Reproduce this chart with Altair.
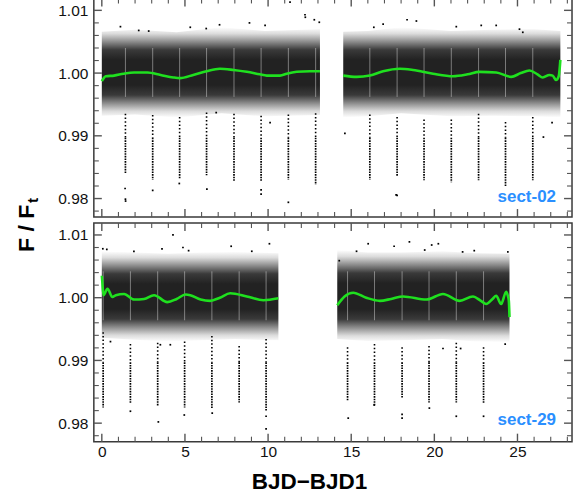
import altair as alt
import pandas as pd

# ---------------- data ----------------
X_DOMAIN = [-0.48, 28.28]
Y_DOMAIN = [0.97705, 1.0119]

x_major = [0, 5, 10, 15, 20, 25]
x_minor = [1, 2, 3, 4, 6, 7, 8, 9, 11, 12, 13, 14, 16, 17, 18, 19, 21, 22, 23, 24, 26, 27, 28]
y_major = [0.98, 0.99, 1.00, 1.01]
y_minor = [0.978, 0.982, 0.984, 0.986, 0.988, 0.992, 0.994, 0.996, 0.998,
           1.002, 1.004, 1.006, 1.008]

# ---- sector 02 (top panel) ----
s02_label = "sect-02"
# extent of the scatter cloud (sparse edges) per data segment
s02_band_t = [0.0, 2.0, 4.5, 7.2, 9.8, 13.12, 14.52, 16.0, 18.0, 21.0, 23.5, 26.0, 27.58]
s02_band_seg = [1, 1, 1, 1, 1, 1, 2, 2, 2, 2, 2, 2, 2]
s02_band_hi = [1.0066, 1.0069, 1.0065, 1.0073, 1.0067, 1.0070, 1.0066, 1.0067, 1.0073, 1.0067, 1.0069, 1.0070, 1.0067]
s02_band_lo = [0.9932, 0.9934, 0.9929, 0.9936, 0.9931, 0.9933, 0.9929, 0.9931, 0.9936, 0.9931, 0.9932, 0.9931, 0.9929]

s02_fit_t = [0.0, 0.24, 0.74, 1.3, 1.94, 2.74, 3.54, 4.3, 4.7, 5.5, 6.3, 7.1, 7.92, 8.72, 9.5, 9.92,
             10.72, 11.12, 11.72, 12.5, 13.12,
             14.52, 15.32, 16.12, 16.92, 17.92, 18.72, 19.92, 21.12, 22.0, 22.72, 23.72, 24.62,
             25.2, 25.72, 26.2, 26.52, 26.92, 27.12, 27.32, 27.48, 27.58]
s02_fit_f = [0.9987, 0.9995, 0.9996, 0.9999, 1.0001, 1.0001, 0.9997, 0.9993, 0.9992, 0.9997, 1.0003,
             1.0007, 1.0005, 1.0002, 0.9998, 0.9996, 0.9996, 0.9999, 1.0002, 1.0003, 1.0003,
             0.9996, 0.9994, 0.9996, 1.0003, 1.0007, 1.0005, 0.9999, 0.9995, 0.9998, 1.0002, 1.0001,
             0.9994, 1.0000, 1.0004, 0.9998, 0.9993, 0.9997, 0.9996, 0.9989, 0.9995, 1.0021]
s02_fit_seg = [1] * 21 + [2] * 21

s02_tr_t = [1.42, 3.06, 4.68, 6.30, 7.95, 9.58, 11.22, 12.86, 16.12, 17.76, 19.38, 21.02, 22.66, 24.28, 25.92]
s02_tr_top = [0.9935, 0.9933, 0.9930, 0.9937, 0.9935, 0.9932, 0.9934, 0.9936, 0.9934, 0.9930, 0.9926,
              0.9926, 0.9935, 0.9922, 0.9930]
s02_tr_bot = [0.9840, 0.9830, 0.9832, 0.9837, 0.9827, 0.9827, 0.9830, 0.9822, 0.9830, 0.9835, 0.9829,
              0.9826, 0.9829, 0.9819, 0.9829]

s02_out_t = [1.12, 2.22, 2.82, 5.32, 6.28, 7.08, 8.88, 9.82, 11.32, 12.22, 12.24, 12.78, 13.08, 16.36,
             16.92, 18.36, 18.92, 21.32, 22.82, 23.72, 25.12, 25.32,
             1.40, 1.42, 1.43, 3.06, 4.66, 6.32, 9.58, 9.58, 11.22, 17.70, 17.76, 14.62, 10.12, 6.88,
             26.56, 27.08]
s02_out_f = [1.0074, 1.0068, 1.0067, 1.0073, 1.0071, 1.0077, 1.0080, 1.0076, 1.0113, 1.0093, 1.0089,
             1.0085, 1.0081, 1.0073, 1.0078, 1.0085, 1.0083, 1.0074, 1.0076, 1.0076, 1.0070, 1.0065,
             0.9816, 0.9799, 0.9796, 0.9813, 0.9824, 0.9815, 0.9814, 0.9807, 0.9794, 0.9806, 0.9805,
             0.9904, 0.9921, 0.9937, 0.9898, 0.9921]

# ---- sector 29 (bottom panel) ----
s29_label = "sect-29"
s29_band_t = [0.0, 2.0, 4.0, 6.0, 8.0, 10.62, 14.16, 16.0, 18.0, 20.5, 22.5, 24.52]
s29_band_seg = [1, 1, 1, 1, 1, 1, 2, 2, 2, 2, 2, 2]
s29_band_hi = [1.0074, 1.0072, 1.0070, 1.0072, 1.0073, 1.0071, 1.0076, 1.0072, 1.0072, 1.0074, 1.0071, 1.0070]
s29_band_lo = [0.9936, 0.9933, 0.9930, 0.9932, 0.9934, 0.9932, 0.9934, 0.9931, 0.9932, 0.9934, 0.9930, 0.9929]

s29_fit_t = [0.0, 0.03, 0.1, 0.34, 0.64, 0.84, 1.34, 1.94, 2.54, 3.14, 3.94, 4.5, 5.04, 5.32, 5.94,
             6.52, 7.1, 7.72, 8.72, 9.72, 10.62,
             14.16, 14.6, 15.12, 15.9, 16.72, 17.4, 18.12, 19.52, 20.52, 21.52, 22.32, 22.8, 23.12,
             23.5, 23.72, 24.02, 24.32, 24.42, 24.48, 24.52]
s29_fit_f = [1.0035, 1.0025, 1.0004, 1.0014, 1.0001, 1.0004, 1.0006, 0.9997, 0.9998, 1.0004, 0.9993,
             0.9998, 1.0005, 1.0004, 0.9997, 0.9995, 1.0000, 1.0007, 1.0002, 0.9996, 0.9999,
             0.9988, 1.0002, 1.0008, 1.0000, 0.9995, 0.9998, 1.0002, 0.9997, 1.0006, 0.9995, 1.0002,
             0.9995, 0.9990, 0.9998, 1.0003, 0.9990, 1.00095, 1.0003, 0.9995, 0.9969]
s29_fit_seg = [1] * 21 + [2] * 20

s29_tr_t = [0.08, 1.72, 3.36, 4.98, 6.62, 8.26, 9.88, 14.78, 16.40, 18.06, 19.68, 21.32, 22.96]
s29_tr_top = [0.9945, 0.9926, 0.9928, 0.9930, 0.9939, 0.9923, 0.9934, 0.9921, 0.9926, 0.9921, 0.9923,
              0.9928, 0.9921]
s29_tr_bot = [0.9825, 0.9831, 0.9828, 0.9825, 0.9823, 0.9833, 0.9820, 0.9836, 0.9828, 0.9841, 0.9833,
              0.9833, 0.9831]

s29_out_t = [0.06, 0.30, 1.93, 3.62, 4.28, 4.88, 5.22, 7.78, 9.02, 10.08, 14.28, 15.32, 16.02, 17.58,
             18.50, 19.42, 19.84, 20.24, 21.70, 22.40, 24.42,
             0.52, 3.52, 4.12, 20.52, 21.58, 24.26,
             1.72, 3.40, 4.96, 6.64, 9.88, 9.88, 14.82, 16.38, 18.06, 18.06, 19.70, 21.32, 22.96]
s29_out_f = [1.0078, 1.0077, 1.0074, 1.0078, 1.0100, 1.0080, 1.0075, 1.0082, 1.0074, 1.0086, 1.0059,
             1.0074, 1.0086, 1.0082, 1.0089, 1.0076, 1.0084, 1.0086, 1.0073, 1.0075, 1.0073,
             0.9930, 0.9925, 0.9925, 0.9919, 0.9919, 0.9926,
             0.9819, 0.9802, 0.9813, 0.9816, 0.9791, 0.9811, 0.9808, 0.9829, 0.9808, 0.9814, 0.9824,
             0.9811, 0.9811]

x_title = ["BJD\u2212BJD1"]
y_title_main = ["F / F"]
y_title_sub = ["t"]

# ---------------- chart ----------------
W, H = 479, 219
LEFT = 93.5          # pixel offset of the plot area from the page's left edge
FONT = "Liberation Sans"
TICK_COLOR = "#555555"
GREEN = "#1FE01F"
BLUE = "#2A8FFF"

# vertical density profile of the scatter cloud
cloud = alt.Gradient(
    gradient="linear", x1=0, x2=0, y1=0, y2=1,
    stops=[
        alt.GradientStop(color="#ffffff", offset=0.0),
        alt.GradientStop(color="#dcdcdc", offset=0.07),
        alt.GradientStop(color="#8c8c8c", offset=0.16),
        alt.GradientStop(color="#3a3a3a", offset=0.25),
        alt.GradientStop(color="#222222", offset=0.36),
        alt.GradientStop(color="#222222", offset=0.64),
        alt.GradientStop(color="#3a3a3a", offset=0.75),
        alt.GradientStop(color="#8c8c8c", offset=0.84),
        alt.GradientStop(color="#dcdcdc", offset=0.93),
        alt.GradientStop(color="#ffffff", offset=1.0),
    ],
)

xs = alt.Scale(domain=X_DOMAIN, nice=False, zero=False)
ys = alt.Scale(domain=Y_DOMAIN, nice=False, zero=False)


def panel(band, fit, tr, out, label, bottom):
    if bottom:
        xaxis = alt.Axis(values=x_major, ticks=False, domain=False, grid=False, title=None,
                         labelFont=FONT, labelFontSize=15.5, labelColor="#111111",
                         labelPadding=3, format="d")
    else:
        xaxis = None
    yaxis = alt.Axis(values=y_major, ticks=False, domain=False, grid=False, title=None,
                     labelFont=FONT, labelFontSize=15.5, labelColor="#111111",
                     labelPadding=6, format=".2f")

    def X(f):
        return alt.X(f, type="quantitative", scale=xs, axis=xaxis)

    def Y(f):
        return alt.Y(f, type="quantitative", scale=ys, axis=yaxis)

    band_layer = alt.Chart(pd.DataFrame(band)).mark_area(color=cloud, opacity=1).encode(
        x=X("t"), y=Y("hi"), y2="lo", detail="seg:N")

    tr_df = pd.DataFrame(tr)
    streak = alt.Chart(tr_df).mark_rule(color="white", strokeWidth=1.0, opacity=0.4).encode(
        x=X("t"), y=Y("lo_s"), y2="hi_s")
    ingress = alt.Chart(tr_df).mark_rule(color="black", strokeWidth=1.6,
                                         strokeDash=[1.5, 2.2]).encode(
        x=X("t"), y=Y("top"), y2="mid")
    bottom_col = alt.Chart(tr_df).mark_rule(color="black", strokeWidth=1.7,
                                            strokeDash=[1.6, 1.0]).encode(
        x=X("t"), y=Y("mid"), y2="bot")

    pts = alt.Chart(pd.DataFrame(out)).mark_square(color="black", size=3, opacity=1).encode(
        x=X("t"), y=Y("f"))

    line = alt.Chart(pd.DataFrame(fit)).mark_line(
        color=GREEN, strokeWidth=2.6, interpolate="monotone").encode(
        x=X("t"), y=Y("f"), detail="seg:N")

    xmaj = pd.DataFrame({"v": x_major})
    xmin = pd.DataFrame({"v": x_minor})
    ymaj = pd.DataFrame({"v": y_major})
    ymin = pd.DataFrame({"v": y_minor})
    ticks = []
    for df, ln, sw in [(xmaj, 8, 1.4), (xmin, 5, 1.1)]:
        ticks.append(alt.Chart(df).mark_rule(color=TICK_COLOR, strokeWidth=sw).encode(
            x=X("v"), y=alt.value(H), y2=alt.value(H - ln)))
        ticks.append(alt.Chart(df).mark_rule(color=TICK_COLOR, strokeWidth=sw).encode(
            x=X("v"), y=alt.value(0), y2=alt.value(ln)))
    for df, ln, sw in [(ymaj, 8, 1.4), (ymin, 5, 1.1)]:
        ticks.append(alt.Chart(df).mark_rule(color=TICK_COLOR, strokeWidth=sw).encode(
            y=Y("v"), x=alt.value(0), x2=alt.value(ln)))
        ticks.append(alt.Chart(df).mark_rule(color=TICK_COLOR, strokeWidth=sw).encode(
            y=Y("v"), x=alt.value(W), x2=alt.value(W - ln)))

    lab = alt.Chart(pd.DataFrame({"s": [label]})).mark_text(
        font=FONT, fontSize=17, fontWeight="bold", color=BLUE, align="right",
        baseline="alphabetic").encode(
        x=alt.value(463), y=alt.value(202.5 if bottom else 203.5), text="s:N")

    layers = [band_layer, streak, ingress, bottom_col, pts, line] + ticks + [lab]

    if bottom:
        xt = alt.Chart(pd.DataFrame({"s": x_title})).mark_text(
            font=FONT, fontSize=22.5, fontWeight="bold", color="black", align="center",
            baseline="alphabetic").encode(x=alt.value(216), y=alt.value(266), text="s:N")
        anchor = alt.Chart(pd.DataFrame({"a": [0]})).mark_rule(
            color="white", opacity=0, strokeWidth=1).encode(
            x=alt.value(580 - LEFT - 0.5), x2=alt.value(580 - LEFT - 0.5),
            y=alt.value(497 - 225 - 1.5), y2=alt.value(497 - 225 - 0.5))
        layers += [xt, anchor]
    else:
        yt = alt.Chart(pd.DataFrame({"s": y_title_main})).mark_text(
            font=FONT, fontSize=23, fontWeight="bold", color="black", align="left",
            baseline="alphabetic", angle=270).encode(
            x=alt.value(-60), y=alt.value(254), text="s:N")
        ys_ = alt.Chart(pd.DataFrame({"s": y_title_sub})).mark_text(
            font=FONT, fontSize=15.5, fontWeight="bold", color="black", align="left",
            baseline="alphabetic", angle=270).encode(
            x=alt.value(-55.5), y=alt.value(205), text="s:N")
        anchor = alt.Chart(pd.DataFrame({"a": [0]})).mark_rule(
            color="white", opacity=0, strokeWidth=1).encode(
            x=alt.value(-LEFT + 0.5), x2=alt.value(-LEFT + 0.5),
            y=alt.value(0), y2=alt.value(1))
        layers += [yt, ys_, anchor]

    return alt.layer(*layers).properties(width=W, height=H)


def band_dict(t, seg, lo, hi):
    return {"t": t, "seg": seg, "lo": lo, "hi": hi}


def tr_dict(t, top, bot, mid_level, lo_s, hi_s):
    n = len(t)
    return {"t": t, "top": top, "bot": bot, "mid": [mid_level] * n,
            "lo_s": [lo_s] * n, "hi_s": [hi_s] * n}


top_panel = panel(
    band_dict(s02_band_t, s02_band_seg, s02_band_lo, s02_band_hi),
    {"t": s02_fit_t, "f": s02_fit_f, "seg": s02_fit_seg},
    tr_dict(s02_tr_t, s02_tr_top, s02_tr_bot, 0.9897, 0.9962, 1.0040),
    {"t": s02_out_t, "f": s02_out_f},
    s02_label, bottom=False)

bottom_panel = panel(
    band_dict(s29_band_t, s29_band_seg, s29_band_lo, s29_band_hi),
    {"t": s29_fit_t, "f": s29_fit_f, "seg": s29_fit_seg},
    tr_dict(s29_tr_t, s29_tr_top, s29_tr_bot, 0.9897, 0.9964, 1.0042),
    {"t": s29_out_t, "f": s29_out_f},
    s29_label, bottom=True)

chart = alt.vconcat(top_panel, bottom_panel, spacing=6, bounds="flush").properties(
    padding={"left": 0, "top": -4, "right": 0, "bottom": 0},
    background="white",
).configure_view(stroke="#3a3a3a", strokeWidth=1.5)

chart.save("out.html", embed_options={"renderer": "svg", "actions": False})
